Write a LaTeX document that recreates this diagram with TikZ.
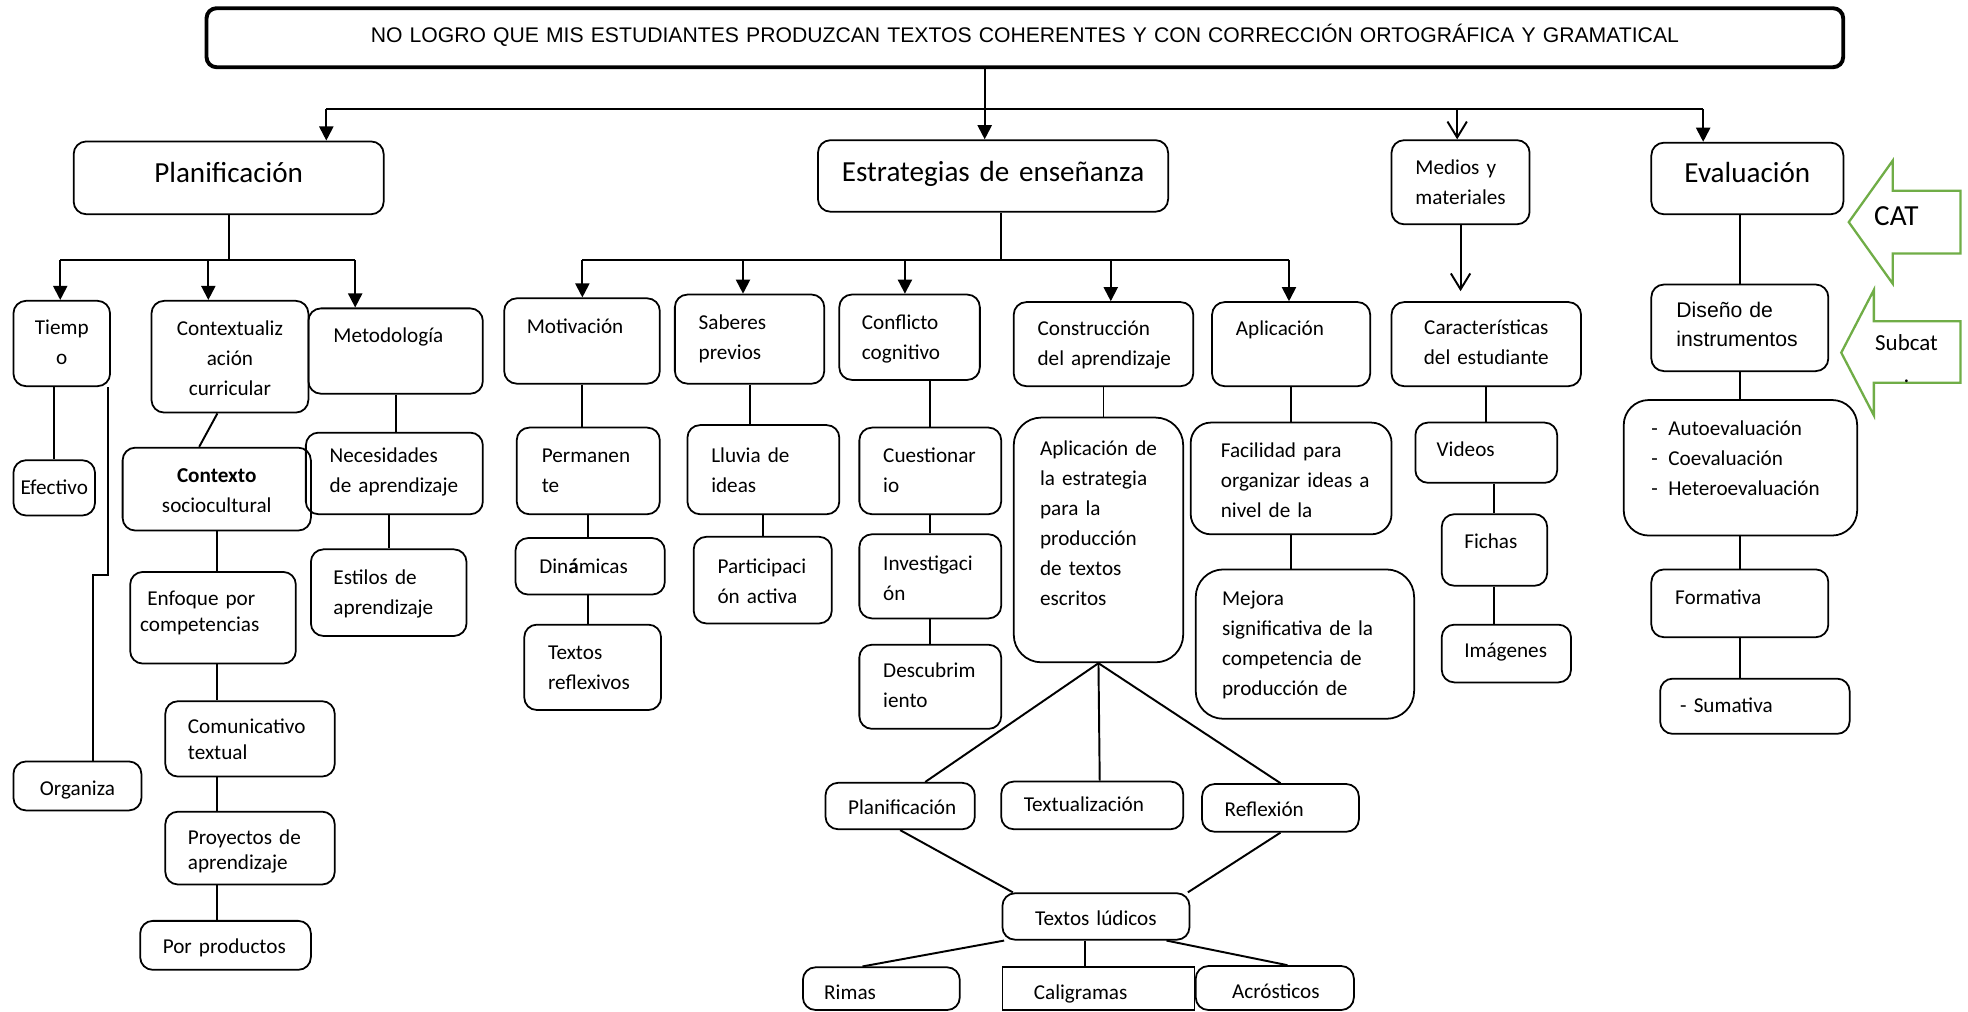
\documentclass[tikz,border=0pt]{standalone}
\usepackage{fontspec}
\setmainfont{Carlito}
\newfontfamily\arialfont{Liberation Sans}
\usetikzlibrary{arrows.meta}
\newcommand\upx{0.025cm}
\newcommand\boxfont{\fontsize{12}{17}\selectfont}
\newcommand\tightfont{\fontsize{12}{14.5}\selectfont}
\newcommand\headfont{\fontsize{16.5}{20}\selectfont}
\definecolor{catgreen}{HTML}{70AD47}
\hyphenpenalty=10000
\exhyphenpenalty=10000
\tikzset{
  bx/.style n args={4}{draw, line width=1pt, rounded corners=0.25cm, anchor=north west,
    inner xsep=#3*\upx, inner ysep=0pt, text width=(#1-2*#3)*\upx,
    text height=#4*\upx, text depth=(#2-#4)*\upx, align=left, font=\boxfont},
  ln/.style={line width=1.1pt},
  arr/.style={ln, -{Triangle[length=8pt,width=8pt]}},
  openarr/.style={ln, -{Straight Barb[length=9pt,width=11pt]}},
  catarrow/.style={draw=catgreen, line width=1.3pt, line join=miter}
}
\begin{document}
\begin{tikzpicture}[x=\upx,y=-\upx]
\useasboundingbox (0,0) rectangle (1568,806);
\node[bx={1304}{47}{10}{27}, line width=2.2pt, rounded corners=0.2cm, align=center, font=\arialfont\fontsize{12}{14}\selectfont] (title) at (163,5) {NO LOGRO QUE MIS ESTUDIANTES PRODUZCAN TEXTOS COHERENTES Y CON CORRECCIÓN ORTOGRÁFICA Y GRAMATICAL};
\node[bx={247}{58}{4}{33}, align=center, font=\headfont] (plan) at (58,112) {Planificación};
\node[bx={279}{57}{4}{33}, align=center, font=\headfont] (estr) at (651,111) {Estrategias de enseñanza};
\node[bx={110}{67}{19}{27}] (medios) at (1108,111) {Medios y\\materiales};
\node[bx={153}{57}{4}{32}, align=center, font=\headfont] (eval) at (1315,113) {Evaluación};
\node[bx={77}{68}{4}{27}, align=center] (tiempo) at (10,239) {Tiemp\\o};
\node[bx={125}{89}{4}{28}, align=center] (context) at (120,239) {Contextualiz\\ación\\curricular};
\node[bx={139}{68}{20}{27}] (metod) at (245,245) {Metodología};
\node[bx={65}{44}{2}{27}, align=center] (efect) at (10,366) {Efectivo};
\node[bx={102}{39}{4}{27}, align=center] (organ) at (10,606) {Organiza};
\node[bx={150}{66}{4}{28}, align=center] (contexto) at (97,356) {\textbf{Contexto}\\sociocultural};
\node[bx={132}{73}{8}{27}, font=\tightfont] (enfoque) at (103,455) {~Enfoque por\\competencias};
\node[bx={135}{60}{18}{26}, font=\tightfont] (comun) at (131,558) {Comunicativo\\textual};
\node[bx={135}{58}{18}{26}, font=\tightfont] (proy) at (131,646) {Proyectos de\\aprendizaje};
\node[bx={136}{39}{18}{26}] (porprod) at (111,733) {Por~productos};
\node[bx={141}{65}{19}{24}] (neces) at (243,344) {Necesidades\\de~aprendizaje};
\node[bx={124}{69}{18}{28}] (estilos) at (247,437) {Estilos de\\aprendizaje};
\node[bx={124}{68}{18}{28}] (motiv) at (401,237) {Motivación};
\node[bx={119}{71}{19}{28}] (saberes) at (537,234) {Saberes\\previos};
\node[bx={112}{68}{18}{28}] (conflicto) at (668,234) {Conflicto\\cognitivo};
\node[bx={143}{67}{19}{27}] (constr) at (807,240) {Construcción\\del~aprendizaje};
\node[bx={126}{67}{19}{27}] (aplic) at (965,240) {Aplicación};
\node[bx={114}{69}{20}{28}] (perman) at (411,340) {Permanen\\te};
\node[bx={119}{45}{19}{28}] (dinam) at (410,428) {Din\textbf{á}micas};
\node[bx={109}{68}{19}{28}] (textref) at (417,497) {Textos\\reflexivos};
\node[bx={121}{71}{19}{30}] (lluvia) at (547,338) {Lluvia de\\ideas};
\node[bx={110}{69}{19}{29}] (partic) at (552,427) {Participaci\\ón activa};
\node[bx={113}{69}{19}{28}] (cuest) at (684,340) {Cuestionar\\io};
\node[bx={113}{67}{19}{29}] (invest) at (684,425) {Investigaci\\ón};
\node[bx={113}{67}{19}{26}] (descub) at (684,513) {Descubrim\\iento};
\node[bx={135}{195}{21}{30}, rounded corners=0.55cm] (aplest) at (807,332) {Aplicación~de\\la estrategia\\para la\\producción\\de textos\\escritos};
\node[bx={119}{37}{18}{25}] (planif) at (657,623) {Planificación};
\node[bx={145}{38}{18}{24}] (textual) at (797,622) {Textualización};
\node[bx={125}{38}{18}{26}] (reflex) at (957,624) {Reflexión};
\node[bx={149}{37}{4}{26}, align=center] (ludicos) at (798,711) {Textos lúdicos};
\node[bx={125}{34}{17}{26}] (rimas) at (639,770) {Rimas};
\node[bx={153}{34}{25}{26}, sharp corners] (caligr) at (798,770) {Caligramas};
\node[bx={126}{35}{29}{26}] (acrost) at (952,769) {Acrósticos};
\node[bx={160}{89}{24}{28}, rounded corners=0.4cm] (facil) at (948,336) {Facilidad para\\organizar~ideas~a\\nivel de la};
\node[bx={174}{119}{21}{29}, rounded corners=0.55cm] (mejora) at (952,453) {Mejora\\significativa de la\\competencia de\\producción de};
\node[bx={151}{67}{4}{26}, align=center] (caract) at (1108,240) {Características\\del estudiante};
\node[bx={113}{48}{17}{27}] (videos) at (1127,336) {Videos};
\node[bx={84}{57}{18}{27}] (fichas) at (1148,409) {Fichas};
\node[bx={103}{46}{18}{26}] (imag) at (1148,497) {Imágenes};
\node[bx={141}{69}{20}{26}, font=\arialfont\fontsize{12}{16.4}\selectfont] (diseno) at (1315,226) {Diseño de\\instrumentos};
\node[bx={186}{108}{22}{28}, rounded corners=0.5cm] (lista) at (1293,318) {-\enspace Autoevaluación\\-\enspace Coevaluación\\-\enspace Heteroevaluación};
\node[bx={141}{54}{19}{28}] (format) at (1315,453) {Formativa};
\node[bx={151}{44}{16}{27}] (sumat) at (1322,540) {- Sumativa};
\draw[catarrow] (1473,177) -- (1508,128) -- (1508,152) -- (1562,152) -- (1562,202) -- (1508,202) -- (1508,226) -- cycle;
\node[font=\fontsize{16.5}{20}\selectfont, anchor=base west, inner sep=0pt] (cat) at (1493,180) {CAT};
\draw[catarrow] (1467,281) -- (1493,231) -- (1493,256) -- (1562,256) -- (1562,305) -- (1493,305) -- (1493,331) -- cycle;
\node[font=\fontsize{13}{18.5}\selectfont, align=center, anchor=north, inner sep=0pt] (subcat) at (1519,266) {Subcat\\.};
\coordinate (ta) at ([xshift=-32*\upx]title.south);
\draw[arr] (ta) -- (ta |- estr.north);
\coordinate (busL) at (260,87);
\coordinate (busM) at (1161,87);
\coordinate (busR) at (1357,87);
\draw[ln] (busL) -- (busR);
\draw[arr] (busL) -- (busL |- plan.north);
\draw[openarr] (busM) -- (busM |- medios.north);
\draw[arr] (busR) -- (busR |- eval.north);
\coordinate (pbL) at (48,207);
\coordinate (pbM) at (166,207);
\coordinate (pbR) at (283,207);
\draw[ln] (plan.south) -- (plan.south |- pbL);
\draw[ln] (pbL) -- (pbR);
\draw[arr] (pbL) -- (pbL |- tiempo.north);
\draw[arr] (pbM) -- (pbM |- context.north);
\draw[arr] (pbR) -- (pbR |- metod.north);
\draw[ln] (efect.north |- tiempo.south) -- (efect.north);
\coordinate (jog) at (74,458);
\draw[ln] ([xshift=-2*\upx]tiempo.south east) |- (jog) -- (jog |- organ.north);
\draw[ln] ([xshift=-10*\upx]context.south) -- ([xshift=-14*\upx]contexto.north);
\draw[ln] (contexto.south) -- (contexto.south |- enfoque.north);
\draw[ln] (enfoque.south -| contexto.south) -- (comun.north -| contexto.south);
\draw[ln] (comun.south -| contexto.south) -- (proy.north -| contexto.south);
\draw[ln] (proy.south -| contexto.south) -- (porprod.north -| contexto.south);
\draw[ln] (metod.south) -- (metod.south |- neces.north);
\draw[ln] (estilos.north |- neces.south) -- (estilos.north);
\coordinate (es) at ([xshift=6.5*\upx]estr.south);
\coordinate (ebL) at (464,207);
\coordinate (ebS) at (592,207);
\coordinate (ebC) at (721,207);
\coordinate (ebK) at (885,207);
\coordinate (ebR) at (1027,207);
\draw[ln] (es) -- (es |- ebL);
\draw[ln] (ebL) -- (ebR);
\draw[arr] (ebL) -- (ebL |- motiv.north);
\draw[arr] (ebS) -- (ebS |- saberes.north);
\draw[arr] (ebC) -- (ebC |- conflicto.north);
\draw[arr] (ebK) -- (ebK |- constr.north);
\draw[arr] (ebR) -- (ebR |- aplic.north);
\draw[ln] (motiv.south) -- (motiv.south |- perman.north);
\draw[ln] (perman.south) -- (perman.south |- dinam.north);
\draw[ln] (dinam.south -| perman.south) -- (textref.north -| perman.south);
\draw[ln] (saberes.south) -- (saberes.south |- lluvia.north);
\draw[ln] (lluvia.south) -- (lluvia.south |- partic.north);
\draw[ln] (cuest.north |- conflicto.south) -- (cuest.north);
\draw[ln] (cuest.south) -- (cuest.south |- invest.north);
\draw[ln] (invest.south) -- (invest.south |- descub.north);
\draw[ln] (constr.south) -- (constr.south |- aplest.north);
\draw[ln] (aplest.south) -- ([xshift=20*\upx]planif.north);
\draw[ln] (aplest.south) -- ([xshift=6*\upx]textual.north);
\draw[ln] (aplest.south) -- (reflex.north);
\draw[ln] (planif.south) -- ([xshift=9*\upx]ludicos.north west);
\draw[ln] (reflex.south) -- ([xshift=-2*\upx]ludicos.north east);
\draw[ln] ([xshift=2*\upx]ludicos.south west) -- ([xshift=-15*\upx]rimas.north);
\coordinate (lc) at ([xshift=-9*\upx]ludicos.south);
\draw[ln] (lc) -- (lc |- caligr.north);
\draw[ln] ([xshift=-19*\upx]ludicos.south east) -- ([xshift=10*\upx]acrost.north);
\draw[ln] (aplic.south) -- (aplic.south |- facil.north);
\draw[ln] (facil.south) -- (facil.south |- mejora.north);
\draw[openarr, shorten >=0.2cm] (medios.south) -- (medios.south |- caract.north);
\draw[ln] (caract.south) -- (caract.south |- videos.north);
\draw[ln] (fichas.north |- videos.south) -- (fichas.north);
\draw[ln] (fichas.south) -- (fichas.south |- imag.north);
\draw[ln] (diseno.north |- eval.south) -- (diseno.north);
\draw[ln] (diseno.south) -- (diseno.south |- lista.north);
\draw[ln] (lista.south) -- (lista.south |- format.north);
\draw[ln] (format.south) -- (format.south |- sumat.north);
\end{tikzpicture}
\end{document}
